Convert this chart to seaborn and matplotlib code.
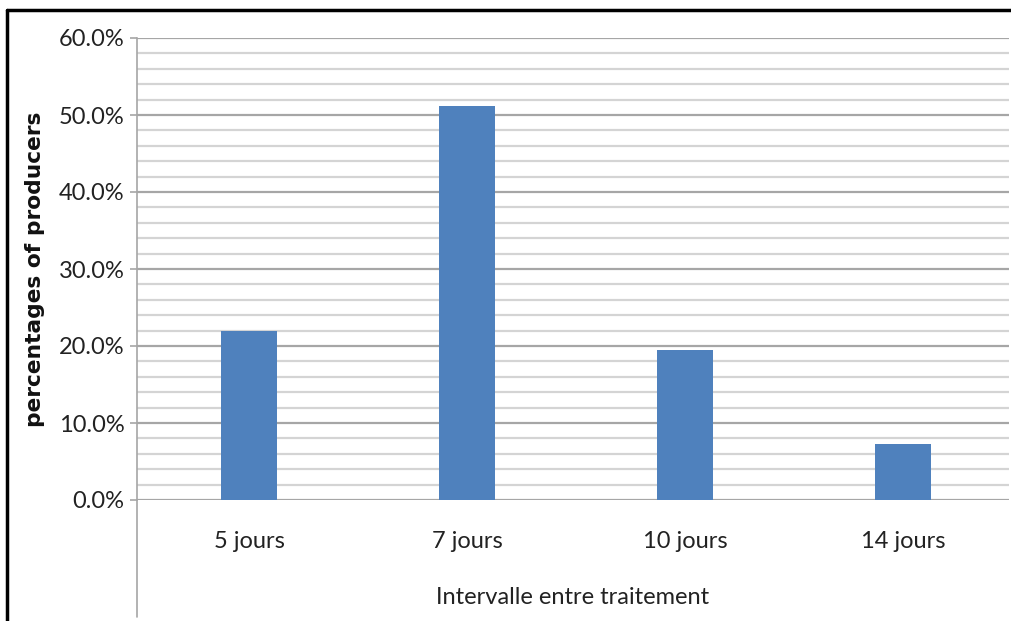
import seaborn as sns
import matplotlib.pyplot as plt
import pandas as pd
from matplotlib.lines import Line2D
from matplotlib.ticker import MultipleLocator, FuncFormatter

categories = ['5 jours', '7 jours', '10 jours', '14 jours']
values = [22.0, 51.2, 19.5, 7.3]

df = pd.DataFrame({'intervalle': categories, 'pct': values})

sns.set_style('white')
plt.rcParams['font.family'] = ['Lato', 'DejaVu Sans']

W, H = 1012, 621
fig = plt.figure(figsize=(W / 100, H / 100), dpi=100)
ax = fig.add_axes([137 / W, 1 - 500 / H, (1009 - 137) / W, 462 / H])

sns.barplot(x='intervalle', y='pct', data=df, color='#4F81BD', width=0.255,
            saturation=1, linewidth=0, ax=ax, zorder=3)

ax.set_ylim(0, 60)
ax.set_xlim(-0.514, 3.486)
ax.yaxis.set_major_locator(MultipleLocator(10))
ax.yaxis.set_minor_locator(MultipleLocator(2))
ax.yaxis.set_major_formatter(FuncFormatter(lambda v, p: f'{v:.1f}%'))
ax.grid(which='major', axis='y', color='#A6A6A6', linewidth=1.6, zorder=0)
ax.grid(which='minor', axis='y', color='#D4D4D4', linewidth=1.6, zorder=0)
ax.set_axisbelow(True)

for s in ['top', 'right', 'bottom']:
    ax.spines[s].set_visible(False)
ax.spines['left'].set_color('#A6A6A6')
ax.spines['left'].set_linewidth(1.2)
ax.tick_params(axis='y', which='major', left=True, length=5, width=1.2,
               color='#A6A6A6', labelsize=17, labelcolor='#222222', pad=4)
ax.tick_params(axis='y', which='minor', left=False)
ax.tick_params(axis='x', bottom=False, labelsize=17, labelcolor='#222222', pad=19)

ax.set_xlabel('Intervalle entre traitement', fontsize=17, color='#222222', labelpad=25)
ax.set_ylabel('percentages of producers', fontsize=15.7, fontweight='bold',
              family=['DejaVu Sans'], color='#111111', labelpad=10)

# y axis line continues below the plot area
fig.add_artist(Line2D([137 / W, 137 / W], [1 - 500 / H, 1 - 617 / H],
                      color='#A6A6A6', linewidth=1.2))
# outer frame (top and left edges visible)
fig.add_artist(Line2D([7 / W, 1.0], [1 - 10 / H, 1 - 10 / H], color='black', linewidth=2.5))
fig.add_artist(Line2D([7 / W, 7 / W], [1 - 10 / H, 0.0], color='black', linewidth=2.5))

fig.savefig('out.png', dpi=100)
